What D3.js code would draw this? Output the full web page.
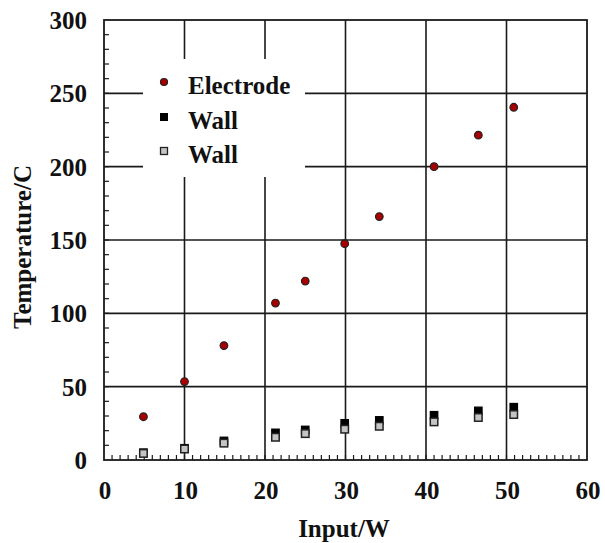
<!DOCTYPE html>
<html><head><meta charset="utf-8">
<script src="https://cdn.jsdelivr.net/npm/d3@7"></script>
<style>body{margin:0;background:#fff}svg{display:block}text{font-family:"Liberation Serif","Times New Roman",serif;font-weight:bold;fill:#111}</style>
</head><body><svg id="c" width="605" height="543"></svg>
<script>
const power = [4.9, 10, 14.9, 21.3, 25, 29.9, 34.2, 41, 46.5, 50.9];
const electrode = [29.5, 53.5, 78, 107, 122, 147.5, 166, 200, 221.5, 240.5];
const wallBlack = [5, 8, 13, 18.5, 20.5, 25, 27, 30.5, 33.5, 36];
const wallGray = [4.5, 7.5, 11.5, 15.5, 18, 21, 23, 26, 29, 31];
const xTicks = [0, 10, 20, 30, 40, 50, 60];
const yTicks = [0, 50, 100, 150, 200, 250, 300];
const legendLabels = ["Electrode", "Wall", "Wall"];

const svg = d3.select("#c");
const L = 104, R = 587, T = 20, B = 460;
const x = d3.scaleLinear().domain([0, 60]).range([L, R]);
const y = d3.scaleLinear().domain([0, 300]).range([B, T]);
const ink = "#1a1a1a";

// grid
const g = svg.append("g");
g.selectAll(".gx").data(xTicks.slice(1, -1)).join("line")
  .attr("x1", d => x(d)).attr("x2", d => x(d)).attr("y1", T).attr("y2", B)
  .attr("stroke", ink).attr("stroke-width", 1.6);
g.selectAll(".gy").data(yTicks.slice(1, -1)).join("line")
  .attr("x1", L).attr("x2", R).attr("y1", d => y(d)).attr("y2", d => y(d))
  .attr("stroke", ink).attr("stroke-width", 1.6);

// minor ticks
svg.append("g").selectAll("line").data(d3.range(1, 60)).join("line")
  .attr("x1", d => x(d)).attr("x2", d => x(d)).attr("y1", B).attr("y2", B - 5)
  .attr("stroke", ink).attr("stroke-width", 1.2);
svg.append("g").selectAll("line").data(d3.range(10, 300, 10)).join("line")
  .attr("x1", L).attr("x2", L + 5).attr("y1", d => y(d)).attr("y2", d => y(d))
  .attr("stroke", ink).attr("stroke-width", 1.2);

// legend background
svg.append("rect").attr("x", 143).attr("y", 59).attr("width", 162).attr("height", 118).attr("fill", "#fff");

// frame
svg.append("rect").attr("x", L).attr("y", T).attr("width", R - L).attr("height", B - T)
  .attr("fill", "none").attr("stroke", ink).attr("stroke-width", 1.8);

// tick labels
svg.append("g").selectAll("text").data(yTicks).join("text")
  .attr("x", 87).attr("y", d => y(d) + 9).attr("text-anchor", "end")
  .attr("font-size", 25).text(d => d);
svg.append("g").selectAll("text").data(xTicks).join("text")
  .attr("x", d => x(d) + 1).attr("y", 499).attr("text-anchor", "middle")
  .attr("font-size", 25).text(d => d);

// titles
svg.append("text").attr("x", 344).attr("y", 537).attr("text-anchor", "middle")
  .attr("font-size", 25).text("Input/W");
svg.append("text").attr("transform", "translate(31,247) rotate(-90)").attr("text-anchor", "middle")
  .attr("font-size", 25).text("Temperature/C");

// data
const S = 7.5;
const pts = power.map((p, i) => ({p, e: electrode[i], b: wallBlack[i], w: wallGray[i]}));
svg.append("g").selectAll("rect").data(pts).join("rect")
  .attr("x", d => x(d.p) - S / 2).attr("y", d => y(d.b) - S / 2).attr("width", S).attr("height", S)
  .attr("fill", "#000").attr("stroke", "#000").attr("stroke-width", 1.2);
svg.append("g").selectAll("rect").data(pts).join("rect")
  .attr("x", d => x(d.p) - S / 2).attr("y", d => y(d.w) - S / 2).attr("width", S).attr("height", S)
  .attr("fill", "#c4c4c4").attr("stroke", "#222").attr("stroke-width", 1.5);
svg.append("g").selectAll("circle").data(pts).join("circle")
  .attr("cx", d => x(d.p)).attr("cy", d => y(d.e)).attr("r", 3.8)
  .attr("fill", "#a80000").attr("stroke", "#222").attr("stroke-width", 1.2);

// legend
const ly = [82, 117, 151];
const lg = svg.append("g");
lg.append("circle").attr("cx", 164).attr("cy", ly[0]).attr("r", 3.5)
  .attr("fill", "#a80000").attr("stroke", "#222").attr("stroke-width", 1.2);
lg.append("rect").attr("x", 164 - 4).attr("y", ly[1] - 4).attr("width", 8).attr("height", 8)
  .attr("fill", "#000");
lg.append("rect").attr("x", 164 - 3.5).attr("y", ly[2] - 3.5).attr("width", 7).attr("height", 7)
  .attr("fill", "#c4c4c4").attr("stroke", "#222").attr("stroke-width", 1.3);
lg.selectAll("text").data(legendLabels).join("text")
  .attr("x", 188).attr("y", (d, i) => ly[i] + 12).attr("font-size", 25).text(d => d);
</script></body></html>
